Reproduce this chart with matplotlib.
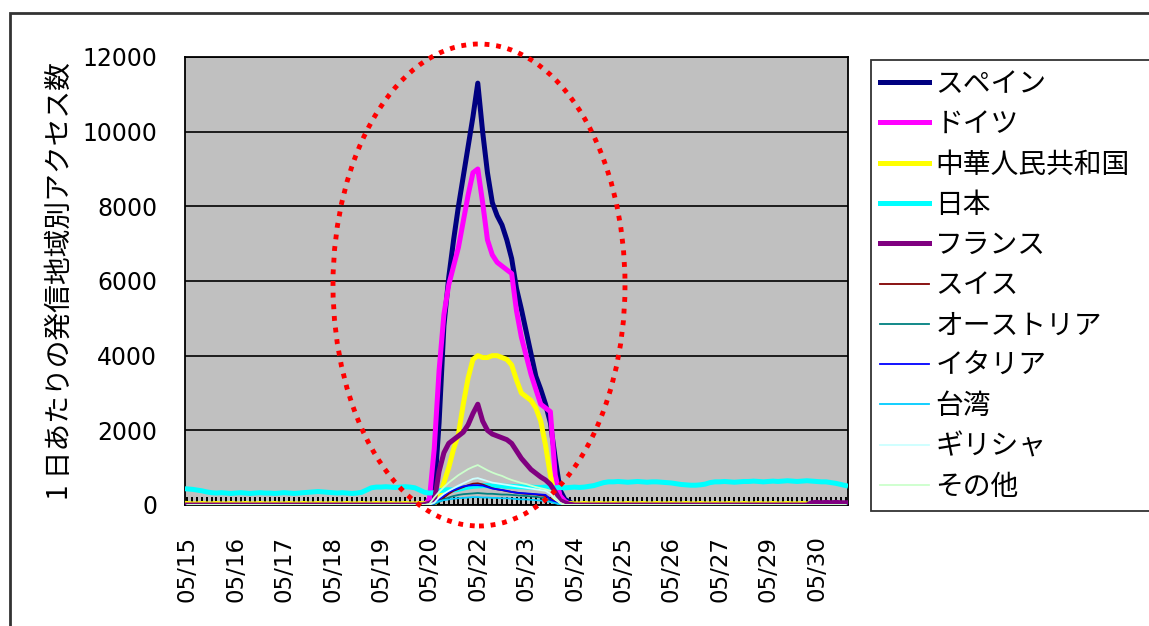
import matplotlib
matplotlib.use("Agg")
import matplotlib.pyplot as plt
from matplotlib.patches import Rectangle, Ellipse

plt.rcParams['font.family'] = ['Noto Sans CJK JP', 'DejaVu Sans']

# ==================================================
# Data (one row of 10 points per labelled interval)
# ==================================================
tick_labels = ["05/15", "05/16", "05/17", "05/18", "05/19", "05/20", "05/22",
               "05/23", "05/24", "05/25", "05/26", "05/27", "05/29", "05/30"]
label_step = 10

spain = [
    0, 0, 0, 0, 0, 0, 0, 0, 0, 0,
    0, 0, 0, 0, 0, 0, 0, 0, 0, 0,
    0, 0, 0, 0, 0, 0, 0, 0, 0, 0,
    0, 0, 0, 0, 0, 0, 0, 0, 0, 0,
    0, 0, 0, 0, 0, 0, 0, 0, 0, 20,
    150, 300, 2200, 4800, 6100, 7100, 8000, 8800, 9600, 10400,
    11300, 10000, 8900, 8100, 7750, 7500, 7100, 6600, 5800, 5250,
    4650, 4050, 3450, 3100, 2700, 2200, 1250, 400, 150, 80,
    0, 0, 0, 0, 0, 0, 0, 0, 0, 0,
    0, 0, 0, 0, 0, 0, 0, 0, 0, 0,
    0, 0, 0, 0, 0, 0, 0, 0, 0, 0,
    0, 0, 0, 0, 0, 0, 0, 0, 0, 0,
    0, 0, 0, 0, 0, 0, 0, 0, 0, 0,
    0, 0, 0, 0, 0, 0, 0,
]
germany = [
    0, 0, 0, 0, 0, 0, 0, 0, 0, 0,
    0, 0, 0, 0, 0, 0, 0, 0, 0, 0,
    0, 0, 0, 0, 0, 0, 0, 0, 0, 0,
    0, 0, 0, 0, 0, 0, 0, 0, 0, 0,
    0, 0, 0, 0, 0, 0, 0, 0, 0, 10,
    150, 1500, 3600, 5100, 5900, 6400, 6900, 7600, 8300, 8900,
    9000, 8100, 7100, 6700, 6500, 6400, 6300, 6200, 5200, 4500,
    4000, 3500, 3100, 2700, 2600, 2500, 800, 250, 100, 20,
    0, 0, 0, 0, 0, 0, 0, 0, 0, 0,
    0, 0, 0, 0, 0, 0, 0, 0, 0, 0,
    0, 0, 0, 0, 0, 0, 0, 0, 0, 0,
    0, 0, 0, 0, 0, 0, 0, 0, 0, 0,
    0, 0, 0, 0, 0, 0, 0, 0, 0, 0,
    0, 0, 0, 0, 0, 0, 0,
]
china = [
    40, 30, 30, 40, 30, 30, 40, 30, 30, 40,
    30, 30, 40, 30, 30, 40, 30, 30, 40, 30,
    30, 40, 30, 30, 40, 30, 30, 40, 30, 30,
    40, 30, 30, 40, 30, 30, 40, 30, 30, 40,
    30, 30, 40, 30, 30, 40, 30, 30, 40, 30,
    30, 40, 200, 600, 1000, 1500, 1900, 2700, 3400, 3900,
    4000, 3950, 3950, 4000, 4000, 3950, 3900, 3750, 3350, 3000,
    2900, 2800, 2600, 2250, 1600, 800, 150, 40, 30, 40,
    30, 30, 40, 30, 30, 40, 30, 30, 40, 30,
    30, 40, 30, 30, 40, 30, 30, 40, 30, 30,
    40, 30, 30, 40, 30, 30, 40, 30, 30, 40,
    30, 30, 40, 30, 30, 40, 30, 30, 40, 30,
    30, 40, 30, 30, 40, 30, 30, 40, 30, 30,
    40, 30, 30, 40, 30, 30, 40,
]
japan = [
    430, 420, 400, 380, 350, 330, 320, 330, 320, 310,
    320, 330, 320, 310, 320, 330, 320, 320, 310, 320,
    330, 320, 310, 320, 330, 340, 350, 360, 350, 340,
    330, 320, 330, 320, 310, 320, 340, 400, 460, 480,
    480, 490, 480, 470, 480, 490, 480, 460, 400, 340,
    320, 330, 380, 400, 410, 400, 420, 450, 480, 500,
    510, 520, 520, 510, 520, 510, 500, 500, 490, 490,
    480, 480, 470, 470, 480, 470, 460, 470, 460, 470,
    480, 470, 480, 500, 520, 560, 600, 620, 620, 630,
    620, 610, 620, 630, 620, 610, 620, 620, 610, 600,
    590, 570, 550, 540, 530, 530, 540, 560, 600, 620,
    620, 630, 620, 610, 620, 630, 630, 640, 630, 620,
    630, 640, 630, 640, 650, 640, 630, 640, 650, 640,
    630, 620, 620, 600, 580, 550, 520,
]
france = [
    0, 0, 0, 0, 0, 0, 0, 0, 0, 0,
    0, 0, 0, 0, 0, 0, 0, 0, 0, 0,
    0, 0, 0, 0, 0, 0, 0, 0, 0, 0,
    0, 0, 0, 0, 0, 0, 0, 0, 0, 0,
    0, 0, 0, 0, 0, 0, 0, 0, 0, 10,
    50, 100, 900, 1400, 1650, 1750, 1850, 1950, 2150, 2450,
    2700, 2250, 2000, 1900, 1850, 1800, 1750, 1650, 1450, 1250,
    1100, 950, 850, 750, 670, 550, 350, 120, 60, 20,
    0, 0, 0, 0, 0, 0, 0, 0, 0, 0,
    0, 0, 0, 0, 0, 0, 0, 0, 0, 0,
    0, 0, 0, 0, 0, 0, 0, 0, 0, 0,
    0, 0, 0, 0, 0, 0, 0, 0, 0, 0,
    0, 0, 0, 0, 0, 0, 0, 0, 0, 60,
    70, 60, 70, 60, 70, 60, 60,
]
swiss = [
    0, 0, 0, 0, 0, 0, 0, 0, 0, 0,
    0, 0, 0, 0, 0, 0, 0, 0, 0, 0,
    0, 0, 0, 0, 0, 0, 0, 0, 0, 0,
    0, 0, 0, 0, 0, 0, 0, 0, 0, 0,
    0, 0, 0, 0, 0, 0, 0, 0, 0, 0,
    10, 30, 100, 200, 300, 380, 430, 480, 530, 570,
    580, 550, 500, 450, 420, 400, 370, 350, 330, 310,
    300, 290, 280, 260, 240, 180, 80, 30, 0, 0,
    0, 0, 0, 0, 0, 0, 0, 0, 0, 0,
    0, 0, 0, 0, 0, 0, 0, 0, 0, 0,
    0, 0, 0, 0, 0, 0, 0, 0, 0, 0,
    0, 0, 0, 0, 0, 0, 0, 0, 0, 0,
    0, 0, 0, 0, 0, 0, 0, 0, 0, 0,
    0, 0, 0, 0, 0, 0, 0,
]
austria = [
    0, 0, 0, 0, 0, 0, 0, 0, 0, 0,
    0, 0, 0, 0, 0, 0, 0, 0, 0, 0,
    0, 0, 0, 0, 0, 0, 0, 0, 0, 0,
    0, 0, 0, 0, 0, 0, 0, 0, 0, 0,
    0, 0, 0, 0, 0, 0, 0, 0, 0, 0,
    10, 20, 80, 150, 200, 240, 270, 290, 300, 310,
    320, 310, 300, 300, 290, 280, 280, 270, 260, 250,
    240, 230, 220, 200, 180, 120, 50, 20, 0, 0,
    0, 0, 0, 0, 0, 0, 0, 0, 0, 0,
    0, 0, 0, 0, 0, 0, 0, 0, 0, 0,
    0, 0, 0, 0, 0, 0, 0, 0, 0, 0,
    0, 0, 0, 0, 0, 0, 0, 0, 0, 0,
    0, 0, 0, 0, 0, 0, 0, 0, 0, 0,
    0, 0, 0, 0, 0, 0, 0,
]
italy = [
    0, 0, 0, 0, 0, 0, 0, 0, 0, 0,
    0, 0, 0, 0, 0, 0, 0, 0, 0, 0,
    0, 0, 0, 0, 0, 0, 0, 0, 0, 0,
    0, 0, 0, 0, 0, 0, 0, 0, 0, 0,
    0, 0, 0, 0, 0, 0, 0, 0, 0, 0,
    10, 40, 150, 250, 350, 400, 450, 500, 520, 530,
    530, 520, 480, 440, 420, 400, 380, 350, 330, 320,
    310, 300, 290, 280, 270, 150, 80, 30, 0, 0,
    0, 0, 0, 0, 0, 0, 0, 0, 0, 0,
    0, 0, 0, 0, 0, 0, 0, 0, 0, 0,
    0, 0, 0, 0, 0, 0, 0, 0, 0, 0,
    0, 0, 0, 0, 0, 0, 0, 0, 0, 0,
    0, 0, 0, 0, 0, 0, 0, 0, 0, 0,
    0, 0, 0, 0, 0, 0, 0,
]
taiwan = [
    0, 0, 0, 0, 0, 0, 0, 0, 0, 0,
    0, 0, 0, 0, 0, 0, 0, 0, 0, 0,
    0, 0, 0, 0, 0, 0, 0, 0, 0, 0,
    0, 0, 0, 0, 0, 0, 0, 0, 0, 0,
    0, 0, 0, 0, 0, 0, 0, 0, 0, 0,
    10, 50, 100, 130, 150, 170, 180, 190, 200, 210,
    210, 200, 200, 190, 190, 180, 180, 170, 160, 150,
    150, 140, 130, 120, 110, 80, 50, 20, 0, 0,
    0, 0, 0, 0, 0, 0, 0, 0, 0, 0,
    0, 0, 0, 0, 0, 0, 0, 0, 0, 0,
    0, 0, 0, 0, 0, 0, 0, 0, 0, 0,
    0, 0, 0, 0, 0, 0, 0, 0, 0, 0,
    0, 0, 0, 0, 0, 0, 0, 0, 0, 0,
    0, 0, 0, 0, 0, 0, 0,
]
greece = [
    0, 0, 0, 0, 0, 0, 0, 0, 0, 0,
    0, 0, 0, 0, 0, 0, 0, 0, 0, 0,
    0, 0, 0, 0, 0, 0, 0, 0, 0, 0,
    0, 0, 0, 0, 0, 0, 0, 0, 0, 0,
    0, 0, 0, 0, 0, 0, 0, 0, 0, 0,
    10, 60, 200, 300, 380, 450, 520, 580, 640, 700,
    720, 680, 640, 600, 580, 560, 540, 520, 500, 480,
    460, 440, 420, 400, 380, 300, 150, 50, 0, 0,
    0, 0, 0, 0, 0, 0, 0, 0, 0, 0,
    0, 0, 0, 0, 0, 0, 0, 0, 0, 0,
    0, 0, 0, 0, 0, 0, 0, 0, 0, 0,
    0, 0, 0, 0, 0, 0, 0, 0, 0, 0,
    0, 0, 0, 0, 0, 0, 0, 0, 0, 0,
    0, 0, 0, 0, 0, 0, 0,
]
others = [
    0, 0, 0, 0, 0, 0, 0, 0, 0, 0,
    0, 0, 0, 0, 0, 0, 0, 0, 0, 0,
    0, 0, 0, 0, 0, 0, 0, 0, 0, 0,
    0, 0, 0, 0, 0, 0, 0, 0, 0, 0,
    0, 0, 0, 0, 0, 0, 0, 0, 0, 0,
    30, 200, 350, 480, 600, 700, 800, 880, 960, 1020,
    1070, 1000, 930, 870, 820, 780, 720, 670, 630, 590,
    560, 520, 480, 450, 420, 380, 200, 60, 0, 0,
    0, 0, 0, 0, 0, 0, 0, 0, 0, 0,
    0, 0, 0, 0, 0, 0, 0, 0, 0, 0,
    0, 0, 0, 0, 0, 0, 0, 0, 0, 0,
    0, 0, 0, 0, 0, 0, 0, 0, 0, 0,
    0, 0, 0, 0, 0, 0, 0, 0, 0, 0,
    0, 0, 0, 0, 0, 0, 0,
]

series_names = ["スペイン", "ドイツ", "中華人民共和国", "日本", "フランス", "スイス",
                "オーストリア", "イタリア", "台湾", "ギリシャ", "その他"]
series_values = [spain, germany, china, japan, france, swiss,
                 austria, italy, taiwan, greece, others]
series_colors = ["#000080", "#FF00FF", "#FFFF00", "#00FFFF", "#800080", "#800000",
                 "#008080", "#0000FF", "#00CCFF", "#CCFFFF", "#CCFFCC"]
series_widths = [3.6, 3.6, 3.6, 3.6, 3.6, 1.3, 1.3, 1.3, 1.3, 1.3, 1.3]

# ==================================================
# Figure
# ==================================================
fig = plt.figure(figsize=(11.49, 6.26), dpi=100)
fig.patches.append(Rectangle((10 / 1149, -0.5), 2.0, 1.5 - 13 / 626,
                             transform=fig.transFigure, fill=False,
                             edgecolor="#333333", linewidth=2.0))

ax = fig.add_axes([185 / 1149, 1 - 505 / 626, 663 / 1149, 448 / 626])
ax.set_facecolor("#C0C0C0")

n = len(spain)
xs = list(range(n))
# Excel order: later series are drawn on top
handles = []
for i, name in enumerate(series_names):
    ln, = ax.plot(xs, series_values[i], color=series_colors[i],
                  linewidth=series_widths[i], label=name, zorder=3 + i * 0.01)
    handles.append(ln)

ax.set_xlim(-0.5, n - 0.5)
ax.set_ylim(0, 12000)
ax.set_yticks(range(0, 12001, 2000))
ax.yaxis.grid(True, color="black", linewidth=1.2)
ax.set_axisbelow(True)
for s in ax.spines.values():
    s.set_color("black")
    s.set_linewidth(1.3)

ax.set_xticks(xs, minor=True)
ax.set_xticks(xs[::label_step])
ax.set_xticklabels(tick_labels, rotation=90, fontsize=16.5, family="DejaVu Sans")
ax.tick_params(axis="x", which="both", direction="in", length=6, width=1.4,
               color="black", pad=22)
ax.tick_params(axis="y", length=0, labelsize=17, pad=20)
for t in ax.get_yticklabels():
    t.set_family("DejaVu Sans")

ax.set_ylabel("1 日あたりの発信地域別アクセス数", fontsize=20)
ax.yaxis.set_label_coords(-0.166, 0.5)

# legend box runs past the right edge of the picture, as in the original
leg = fig.legend(handles, series_names, loc="upper left",
                 bbox_to_anchor=(871 / 1149, 1 - 60 / 626, 0.3, 0),
                 mode="expand", borderaxespad=0,
                 fontsize=20, frameon=True, fancybox=False, edgecolor="black",
                 handlelength=1.75, handletextpad=0.25, labelspacing=0.37,
                 borderpad=0.32)
leg.get_frame().set_linewidth(1.3)

# dotted red ellipse around the spike
fig.patches.append(Ellipse((479 / 1149, 1 - 285 / 626), 292 / 1149, 482 / 626,
                           transform=fig.transFigure, fill=False,
                           edgecolor="#FF0000", linestyle=(0, (1, 1.4)),
                           linewidth=3.5, zorder=10))

plt.savefig("out.png", dpi=100)
